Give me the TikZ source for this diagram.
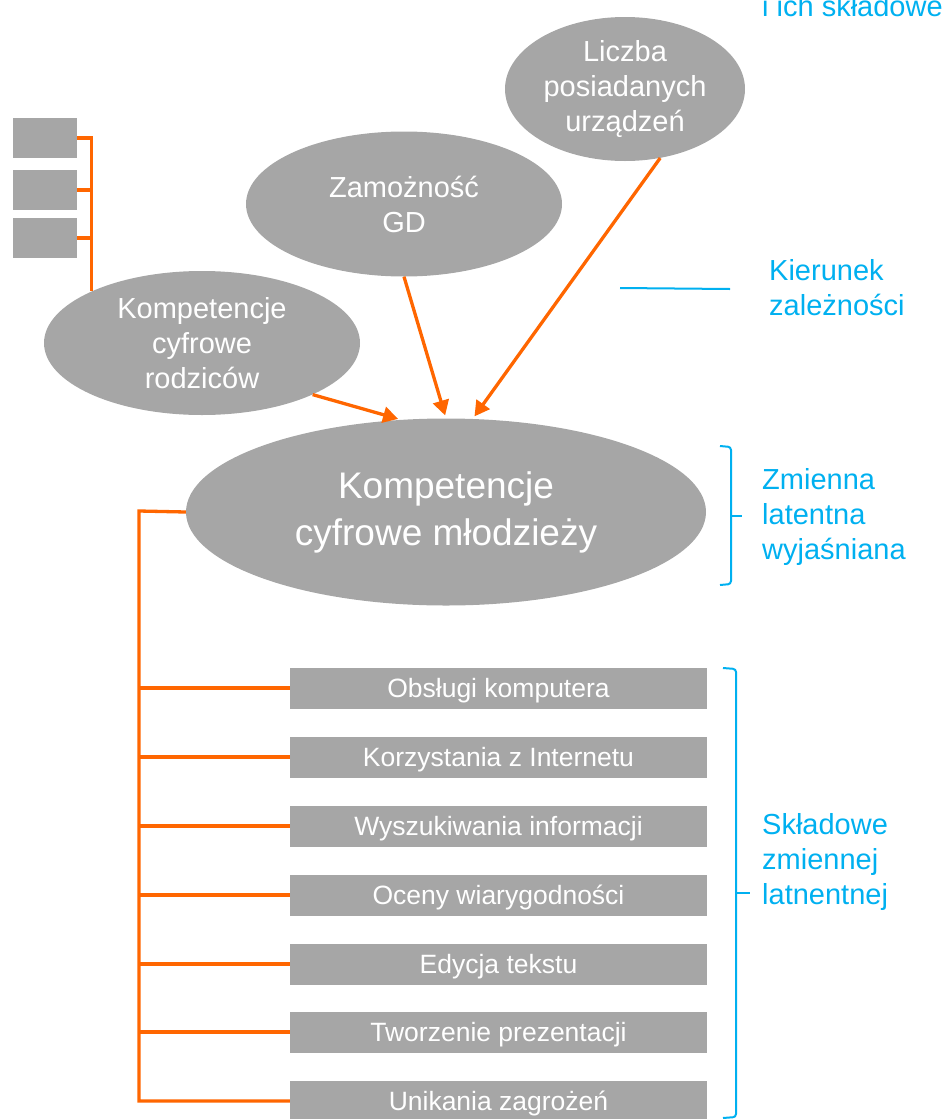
\documentclass[tikz,border=0pt]{standalone}
\usepackage{fontspec}
\setmainfont{Liberation Sans}
\usetikzlibrary{shapes.geometric,arrows.meta}
\definecolor{grayfill}{HTML}{A6A6A6}
\definecolor{orng}{HTML}{FF6600}
\definecolor{blu}{HTML}{00B0F0}
\begin{document}
\begin{tikzpicture}[x=1pt,y=-1pt,
  oval/.style={ellipse,fill=grayfill,inner sep=0pt,text=white,align=center},
  midfont/.style={font=\fontsize{29}{35}\selectfont},
  bigfont/.style={font=\fontsize{37}{47}\selectfont},
  itembox/.style={rectangle,fill=grayfill,minimum width=417pt,minimum height=41pt,inner sep=0pt,text=white,text height=19pt,text depth=0pt,font=\fontsize{26.5}{30}\selectfont},
  smallbox/.style={rectangle,fill=grayfill,minimum width=64pt,minimum height=40pt,inner sep=0pt},
  oline/.style={draw=orng,line width=3.3pt},
  oarrow/.style={draw=orng,line width=3.3pt,-{Triangle[length=15pt,width=16pt]},shorten >=3pt},
  bline/.style={draw=blu,line width=2pt},
  btext/.style={text=blu,align=left,inner sep=0pt,font=\fontsize{29}{35}\selectfont}
]
\useasboundingbox (0,0) rectangle (946,1119);

% ellipses
\node[oval,midfont,minimum width=240pt,minimum height=144pt] (liczba) at (625,89) {Liczba\\posiadanych\\urządzeń};
\node[oval,midfont,minimum width=316pt,minimum height=145pt] (zam) at (404,204) {Zamożność\\GD};
\node[oval,midfont,minimum width=316pt,minimum height=144pt] (rodz) at (202,343) {Kompetencje\\cyfrowe\\rodziców};
\node[oval,bigfont,minimum width=520pt,minimum height=187pt] (mlodz) at (446,512) {Kompetencje\\cyfrowe młodzieży};

% small boxes
\node[smallbox] (sb1) at (45,138) {};
\node[smallbox] (sb2) at (45,190) {};
\node[smallbox] (sb3) at (45,238) {};
\coordinate (rj) at (rodz.155);
\draw[oline] (sb1.east) -| (rj);
\draw[oline] (sb2.east) -- (sb2.east -| rj);
\draw[oline] (sb3.east) -- (sb3.east -| rj);

% arrows
\draw[oarrow] (rodz.-25) -- (mlodz.116);
\draw[oarrow] (zam.-90) -- (mlodz.90);
\draw[oarrow] (liczba.-63) -- (mlodz.74);

% item boxes
\node[itembox] (b1) at (498.5,688) {Obsługi komputera};
\node[itembox] (b2) at (498.5,757) {Korzystania z Internetu};
\node[itembox] (b3) at (498.5,826) {Wyszukiwania informacji};
\node[itembox] (b4) at (498.5,895) {Oceny wiarygodności};
\node[itembox] (b5) at (498.5,964) {Edycja tekstu};
\node[itembox] (b6) at (498.5,1032) {Tworzenie prezentacji};
\node[itembox] (b7) at (498.5,1101) {Unikania zagrożeń};

\coordinate (trunk) at (139,511);
\draw[oline] (mlodz.west) -- (trunk) |- (b7.west);
\foreach \b in {b1,b2,b3,b4,b5,b6}{\draw[oline] (trunk |- \b.west) -- (\b.west);}

% legend
\node[btext,anchor=base west] (top) at (762,16) {i ich składowe};
\node[btext,anchor=west] (kier) at (769,288) {Kierunek\\zależności};
\coordinate (kl1) at (620,288);
\coordinate (kl2) at (730,289);
\draw[bline] (kl1) -- (kl2);

\draw[bline,rounded corners=3pt] (720,446) -- (731,447) -- (731,584) -- (720,585);
\draw[bline] (731,516) -- (742,516);
\node[btext,anchor=west] (zm) at (762,517) {Zmienna\\latentna\\wyjaśniana};

\draw[bline,rounded corners=3pt] (723,668) -- (736,669) -- (736,1117) -- (723,1118);
\draw[bline] (736,893) -- (750,893);
\node[btext,anchor=west] (skl) at (762,862) {Składowe\\zmiennej\\latnentnej};
\end{tikzpicture}
\end{document}
